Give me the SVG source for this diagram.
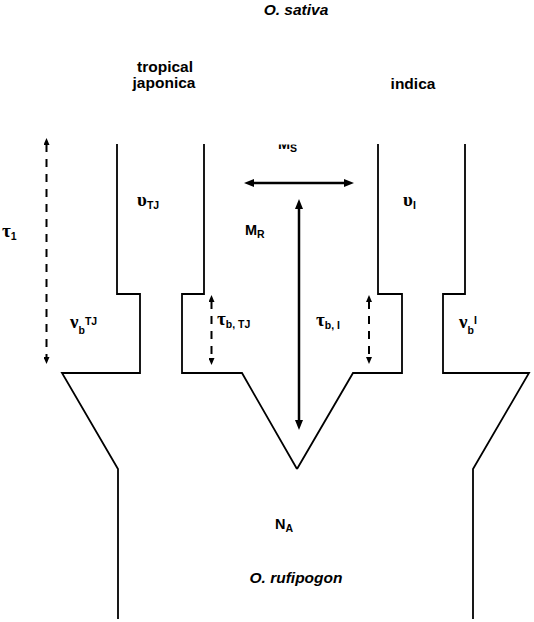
<svg xmlns="http://www.w3.org/2000/svg" width="534" height="622" viewBox="0 0 534 622">
  <style>
    .outline { fill: none; stroke: #000; stroke-width: 1.8; stroke-linejoin: miter; }
    .mig { stroke: #000; stroke-width: 2.5; fill: none; }
    .time { stroke: #000; stroke-width: 2; fill: none; stroke-dasharray: 8 7; }
    .title { font-family: "Liberation Sans", Arial, sans-serif; font-weight: bold; font-size: 15.5px; fill: #000; }
    .ital { font-style: italic; }
    .greek { font-family: "Liberation Serif", "DejaVu Serif", serif; font-size: 19px; font-weight: bold; fill: #000; }
    .lab { font-family: "Liberation Sans", Arial, sans-serif; font-weight: bold; font-size: 14.5px; fill: #000; }
    .sub { font-family: "Liberation Sans", Arial, sans-serif; font-weight: bold; font-size: 10.5px; fill: #000; }
  </style>
  <defs>
    <marker id="headBig" markerUnits="userSpaceOnUse" markerWidth="10" markerHeight="8" refX="2" refY="4" orient="auto-start-reverse">
      <path d="M0,0 L10,4 L0,8 z" fill="#000"/>
    </marker>
    <marker id="headSmall" markerUnits="userSpaceOnUse" markerWidth="7" markerHeight="6" refX="1" refY="3" orient="auto-start-reverse">
      <path d="M0,0 L7,3 L0,6 z" fill="#000"/>
    </marker>
    <clipPath id="clipMS">
      <rect x="0" y="144.5" width="534" height="478"/>
    </clipPath>
  </defs>

  <text class="title ital" x="296" y="15" text-anchor="middle">O. sativa</text>

  <g id="tropical-japonica">
    <path class="outline" d="M117,144 V294 H140 V373 H62 L118,469 V619"/>
    <path class="outline" d="M204,144 V294 H182 V373 H242 L297,469"/>
    <text class="title" x="165" y="72" text-anchor="middle">tropical</text>
    <text class="title" x="164" y="88" text-anchor="middle">japonica</text>
    <text x="137" y="206"><tspan class="greek">υ</tspan><tspan class="sub" dy="3">TJ</tspan></text>
    <text x="70" y="328"><tspan class="greek">ν</tspan><tspan class="sub" dy="6">b</tspan><tspan class="sub" dy="-9">TJ</tspan></text>
    <text x="217" y="325"><tspan class="greek">τ</tspan><tspan class="sub" dy="3">b, TJ</tspan></text>
  </g>

  <g id="indica">
    <path class="outline" d="M297,469 L353,373 H402 V294 H378 V144"/>
    <path class="outline" d="M465,144 V294 H443 V373 H529 L473,469 V619"/>
    <text class="title" x="413" y="89" text-anchor="middle">indica</text>
    <text x="403" y="206"><tspan class="greek">υ</tspan><tspan class="sub" dy="3">I</tspan></text>
    <text x="459" y="328"><tspan class="greek">ν</tspan><tspan class="sub" dy="6">b</tspan><tspan class="sub" dy="-10">I</tspan></text>
    <text x="316" y="326"><tspan class="greek">τ</tspan><tspan class="sub" dy="3">b, I</tspan></text>
  </g>

  <g id="ancestral">
    <text x="275" y="529"><tspan class="lab">N</tspan><tspan class="sub" dy="3">A</tspan></text>
    <text class="title ital" x="296" y="583" text-anchor="middle">O. rufipogon</text>
  </g>

  <g id="time-labels">
    <text x="2" y="237"><tspan class="greek">τ</tspan><tspan class="sub" dy="3">1</tspan></text>
  </g>

  <g id="migration-labels">
    <text x="245" y="235"><tspan class="lab">M</tspan><tspan class="sub" dy="3">R</tspan></text>
    <text x="278" y="149" clip-path="url(#clipMS)"><tspan class="lab">M</tspan><tspan class="sub" dy="3">S</tspan></text>
  </g>

  <g id="connectors">
    <line class="mig" x1="252" y1="183" x2="346" y2="183" marker-start="url(#headBig)" marker-end="url(#headBig)"/>
    <line class="mig" x1="299" y1="207" x2="299" y2="422" marker-start="url(#headBig)" marker-end="url(#headBig)"/>
    <line class="time" x1="46.5" y1="144" x2="46.5" y2="358" marker-start="url(#headSmall)" marker-end="url(#headSmall)"/>
    <line class="time" x1="211.5" y1="301" x2="211.5" y2="359" marker-start="url(#headSmall)" marker-end="url(#headSmall)"/>
    <line class="time" x1="369" y1="301" x2="369" y2="358" marker-start="url(#headSmall)" marker-end="url(#headSmall)"/>
  </g>
</svg>
